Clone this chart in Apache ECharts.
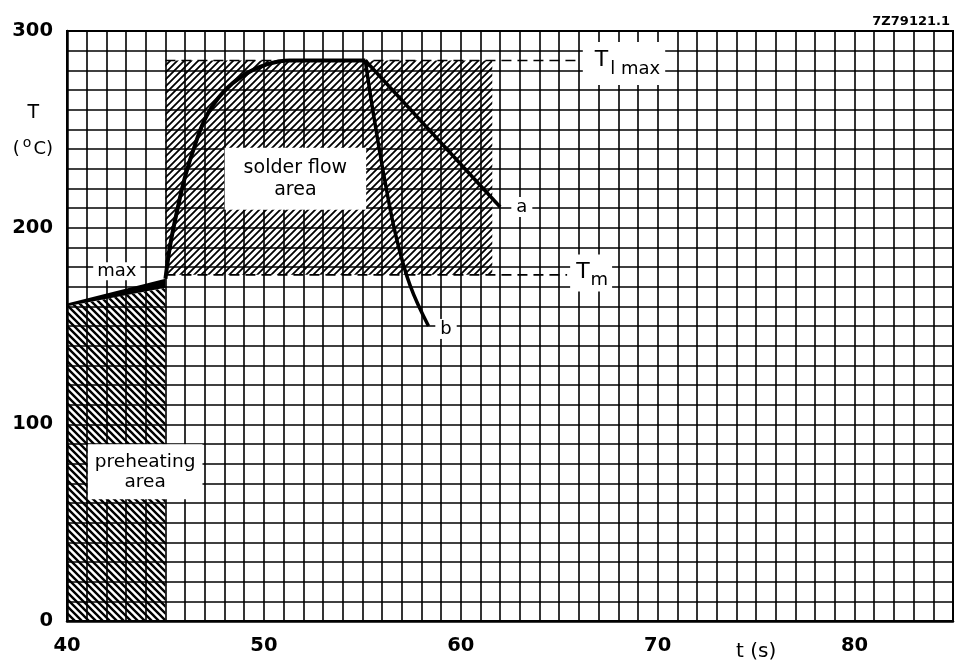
<!DOCTYPE html>
<html lang="en">
<head>
<meta charset="utf-8">
<title>Soldering temperature profile</title>
<style>
  html, body { margin: 0; padding: 0; background: #fff; }
  #chart { width: 959px; height: 662px; }
</style>
</head>
<body>
<div id="chart"></div>
<script src="https://cdn.jsdelivr.net/npm/echarts@6.0.0/dist/echarts.min.js"></script>
<script>
// temperature profile (t in s, T in degC)
var riseTime = [45.0, 45.24, 45.58, 46.0, 46.5, 47.1, 47.95, 48.96, 50.15, 51.3, 55.15];
var riseTemp = [174, 191, 208, 226, 242, 257, 269, 277.5, 283, 285, 285];
var aTime = [55.15, 62.0];
var aTemp = [285, 210.5];
var bTime = [55.15, 55.56, 56.16, 56.75, 57.43, 58.36];
var bTemp = [285, 258, 223, 194, 170.5, 150];

// areas and levels
var solderArea = [45, 61.6, 176, 285];          // t from, t to, T low, T high
var preheatArea = [[40, 0], [45, 0], [45, 169.4], [40, 160]];
var maxWedge = [[40, 160], [40, 161.5], [45, 174], [45, 169.4]];
var tLmax = 285;
var tM = 176;
var tLmaxEnd = 66.05;
var tMEnd = 65.4;

var FONT = 'DejaVu Sans';

function hatch(dir, step, width) {
    var c = document.createElement('canvas');
    c.width = c.height = step;
    var g = c.getContext('2d');
    g.strokeStyle = '#000';
    g.lineWidth = width;
    g.beginPath();
    if (dir > 0) {
        g.moveTo(-1, step + 1); g.lineTo(step + 1, -1);
        g.moveTo(-2, 2); g.lineTo(2, -2);
        g.moveTo(step - 2, step + 2); g.lineTo(step + 2, step - 2);
    } else {
        g.moveTo(-1, -1); g.lineTo(step + 1, step + 1);
        g.moveTo(step - 2, -2); g.lineTo(step + 2, 2);
        g.moveTo(-2, step - 2); g.lineTo(2, step + 2);
    }
    g.stroke();
    return c;
}
var slashFill = { image: hatch(1, 7, 1.8), repeat: 'repeat' };
var backFill = { image: hatch(-1, 7, 2.4), repeat: 'repeat' };

function pairs(xs, ys) {
    return xs.map(function (x, i) { return [x, ys[i]]; });
}

var plain = { fontFamily: FONT, fontWeight: 'normal', color: '#000' };
function txt(extra) {
    return Object.assign({}, plain, extra);
}

var chart = echarts.init(document.getElementById('chart'));
chart.setOption({
    animation: false,
    backgroundColor: '#fff',
    title: {
        text: '7Z79121.1',
        right: 4,
        top: 10,
        textStyle: { fontFamily: FONT, fontSize: 13, fontWeight: 'bold', color: '#000' }
    },
    grid: {
        left: 67, right: 6, top: 31, bottom: 40,
        show: true, borderColor: '#000', borderWidth: 2
    },
    xAxis: {
        type: 'value',
        min: 40, max: 85, interval: 1,
        axisLine: { show: true, onZero: false, lineStyle: { color: '#000', width: 2.5 } },
        axisTick: { show: false },
        splitLine: { show: true, lineStyle: { color: '#000', width: 1.6 } },
        axisLabel: {
            margin: 15,
            color: '#000',
            fontFamily: FONT,
            fontSize: 19.5,
            fontWeight: 'bold',
            formatter: function (v) {
                if (v === 75) return '{u|t (s)}';
                return v % 10 === 0 ? String(v) : '';
            },
            rich: { u: txt({ fontSize: 20, padding: [6, 0, 0, 0] }) }
        }
    },
    yAxis: {
        type: 'value',
        min: 0, max: 300, interval: 10,
        axisLine: { show: true, lineStyle: { color: '#000', width: 2.5 } },
        axisTick: { show: false },
        splitLine: { show: true, lineStyle: { color: '#000', width: 1.6 } },
        axisLabel: {
            margin: 14,
            color: '#000',
            fontFamily: FONT,
            fontSize: 19.5,
            fontWeight: 'bold',
            formatter: function (v) {
                if (v === 260) return '{t|T}';
                if (v === 240) return '{p|(}{o|o}{p|C)}';
                return v % 100 === 0 ? String(v) : '';
            },
            rich: {
                t: txt({ fontSize: 19, padding: [6, 14, 0, 0] }),
                p: txt({ fontSize: 18 }),
                o: txt({ fontSize: 14, padding: [0, 2, 11, 3] })
            }
        }
    },
    series: [
        {
            name: 'preheating area',
            type: 'custom',
            silent: true,
            data: [0],
            renderItem: function (params, api) {
                return {
                    type: 'polygon',
                    shape: { points: preheatArea.map(function (p) { return api.coord(p); }) },
                    style: { fill: backFill }
                };
            }
        },
        {
            name: 'solder flow area',
            type: 'custom',
            silent: true,
            data: [solderArea],
            renderItem: function (params, api) {
                var p0 = api.coord([api.value(0), api.value(3)]);
                var p1 = api.coord([api.value(1), api.value(2)]);
                return {
                    type: 'rect',
                    shape: { x: p0[0], y: p0[1], width: p1[0] - p0[0], height: p1[1] - p0[1] },
                    style: { fill: slashFill }
                };
            }
        },
        {
            name: 'max',
            type: 'custom',
            silent: true,
            data: [0],
            renderItem: function (params, api) {
                return {
                    type: 'polygon',
                    shape: { points: maxWedge.map(function (p) { return api.coord(p); }) },
                    style: { fill: '#000' }
                };
            }
        },
        {
            name: 'Tlmax',
            type: 'line',
            silent: true,
            symbol: 'none',
            data: [[solderArea[0], tLmax], [tLmaxEnd, tLmax]],
            lineStyle: { color: '#000', width: 1.6, type: [10, 6] }
        },
        {
            name: 'Tm',
            type: 'line',
            silent: true,
            symbol: 'none',
            data: [[solderArea[0], tM], [tMEnd, tM]],
            lineStyle: { color: '#000', width: 1.6, type: [10, 6] }
        },
        {
            name: 'rise',
            type: 'line',
            silent: true,
            symbol: 'none',
            smooth: 0.4,
            data: pairs(riseTime, riseTemp),
            lineStyle: { color: '#000', width: 4 }
        },
        {
            name: 'a',
            type: 'line',
            silent: true,
            symbol: 'none',
            data: pairs(aTime, aTemp),
            lineStyle: { color: '#000', width: 3.5 }
        },
        {
            name: 'b',
            type: 'line',
            silent: true,
            symbol: 'none',
            smooth: 0.4,
            data: pairs(bTime, bTemp),
            lineStyle: { color: '#000', width: 3.5 }
        },
        {
            name: 'notes',
            type: 'scatter',
            silent: true,
            z: 10,
            symbolSize: 1,
            itemStyle: { color: 'rgba(0,0,0,0)', opacity: 1 },
            label: {
                show: true,
                position: 'inside',
                color: '#000',
                opacity: 1,
                fontFamily: FONT,
                fontSize: 18,
                backgroundColor: '#fff'
            },
            data: [
                { value: [51.6, 224.9], label: { formatter: 'solder flow\narea', fontSize: 19, lineHeight: 22, padding: [9, 19, 9, 19] } },
                { value: [43.97, 75.9], label: { formatter: 'preheating\narea', fontSize: 18.5, lineHeight: 20, padding: [7, 7, 8, 7] } },
                { value: [42.53, 177.9], label: { formatter: 'max', fontSize: 18, padding: [0, 4] } },
                { value: [63.1, 210.5], label: { formatter: 'a', padding: [1, 5] } },
                { value: [59.25, 148.5], label: { formatter: 'b', padding: [1, 5] } },
                {
                    value: [68.29, 283.5],
                    label: {
                        formatter: '{T|T}{s|l max}',
                        padding: [0, 5, 7, 12],
                        rich: {
                            T: txt({ fontSize: 22 }),
                            s: txt({ fontSize: 18, padding: [18, 0, 0, 2] })
                        }
                    }
                },
                {
                    value: [66.62, 176.9],
                    label: {
                        formatter: '{T|T}{s|m}',
                        padding: [0, 4, 2, 6],
                        rich: {
                            T: txt({ fontSize: 22 }),
                            s: txt({ fontSize: 18, padding: [17, 0, 0, 1] })
                        }
                    }
                }
            ]
        }
    ]
});
</script>
</body>
</html>
